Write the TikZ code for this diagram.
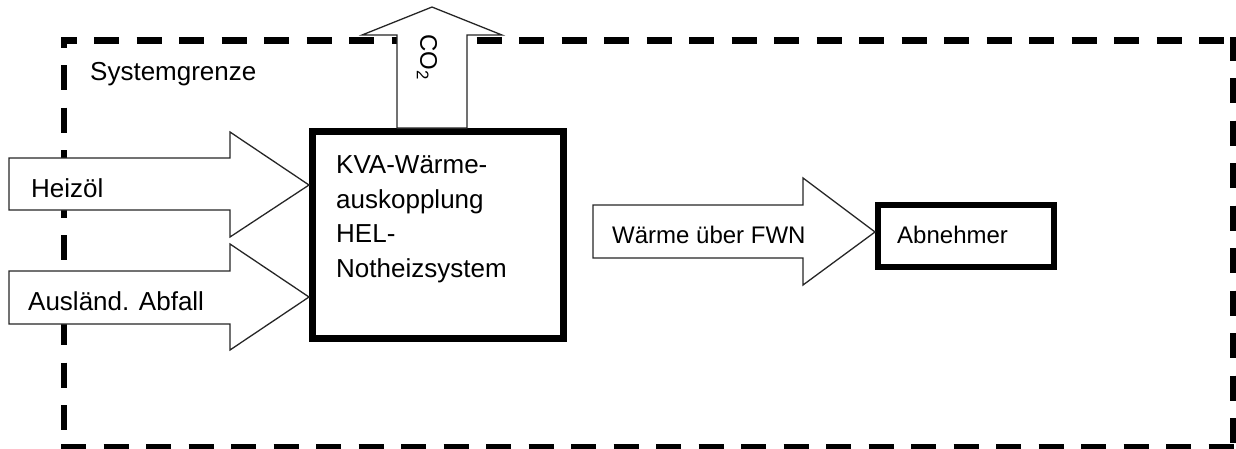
\documentclass[tikz,border=0pt]{standalone}
\usepackage{fontspec}
\setmainfont{Liberation Sans}
\begin{document}
\begin{tikzpicture}[x=1pt,y=-1pt,
  lbl/.style={inner sep=0pt, anchor=base west, font=\fontsize{26}{30}\selectfont},
  smalllbl/.style={lbl, font=\fontsize{24}{28}\selectfont},
  blockarrow/.style={draw=black!85, line width=1.3pt, fill=white, line join=miter},
  border/.style={line width=6pt, dash pattern=on 25pt off 17.5pt},
  heavybox/.style={draw, fill=white, inner sep=0pt}]
\useasboundingbox (0,0) rectangle (1236,448);

% system boundary (dashed frame)
\draw[border, line width=7pt, dash phase=9.5] (61,40) -- (1236,40);
\draw[border, dash phase=14.5] (64,37) -- (64,448);
\draw[border, dash phase=1.5] (1233,37) -- (1233,448);
\draw[border, line width=5pt] (61,446) -- (1236,446);
\node[lbl] (grenze) at (90,80) {Systemgrenze};

% central plant
\node[heavybox, line width=7pt, minimum width=251pt, minimum height=207pt] (kva) at (438,235) {};
\node[lbl] (kva1) at (336,173) {KVA-Wärme-};
\node[lbl] (kva2) at (336,208) {auskopplung};
\node[lbl] (kva3) at (336,242) {HEL-};
\node[lbl] (kva4) at (336,277) {Notheizsystem};

% consumer
\node[heavybox, line width=6pt, minimum width=176pt, minimum height=62pt] (abn) at (966,236) {};
\node[smalllbl] (abntxt) at (897,243) {Abnehmer};

% input: fuel oil
\draw[blockarrow] (9,158) -- (230,158) -- (230,132) -- (kva.west |- 0,185) -- (230,237) -- (230,210) -- (9,210) -- cycle;
\node[lbl] (heiz) at (31,197) {Heizöl};

% input: foreign waste
\draw[blockarrow] (9,271) -- (230,271) -- (230,244) -- (kva.west |- 0,297) -- (230,350) -- (230,324) -- (9,324) -- cycle;
\node[lbl] (abfall) at (28,310) {Ausländ. Abfall};

% output: CO2
\draw[blockarrow] (kva.north -| 397,0) -- (397,35) -- (362,35) -- (432,7) -- (502,35) -- (467,35) -- (kva.north -| 467,0) -- cycle;
\node[inner sep=0pt, rotate=-90, font=\fontsize{24}{28}\selectfont] (co2) at (427,57) {CO\textsubscript{2}};

% output: heat via district heating network
\draw[blockarrow] (593,205) -- (803,205) -- (803,178) -- (abn.west |- 0,232) -- (803,285) -- (803,258) -- (593,258) -- cycle;
\node[smalllbl] (waerme) at (612,243) {Wärme über FWN};
\end{tikzpicture}
\end{document}
